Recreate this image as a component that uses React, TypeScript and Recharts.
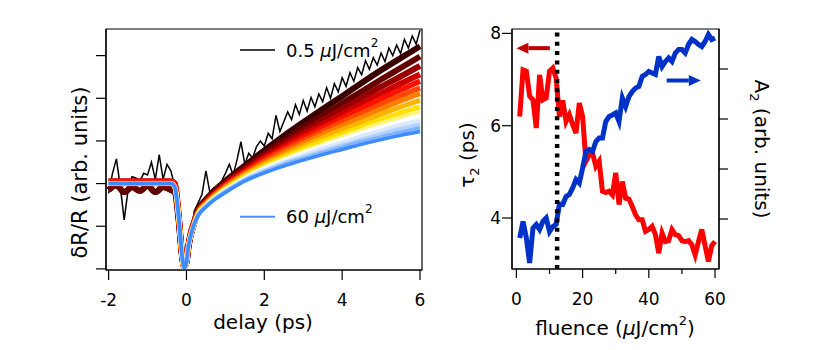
import React from "react";
import { LineChart, Line, XAxis, YAxis, ReferenceLine, ReferenceArea } from "recharts";

const FONT = "'DejaVu Sans', Verdana, sans-serif";

// ---- left panel: dR/R vs delay ----
const delayTicks = [-2, 0, 2, 4, 6];
const signalTicks = [-2, -1, 0, 1, 2, 3];

// lowest fluence (0.5 uJ/cm2), noisy trace
const lowDelays = [
  -2.0, -1.9, -1.8, -1.7, -1.6, -1.5, -1.4, -1.3, -1.2, -1.1, -1.0, -0.9, -0.8, -0.7, -0.6, -0.5, -0.4,
  -0.3, -0.2, -0.1, 0.0, 0.1, 0.2, 0.3, 0.4, 0.5, 0.6, 0.7, 0.8, 0.9, 1.0, 1.1, 1.2, 1.3, 1.4, 1.5, 1.6,
  1.7, 1.8, 1.9, 2.0, 2.1, 2.2, 2.3, 2.4, 2.5, 2.6, 2.7, 2.8, 2.9, 3.0, 3.1, 3.2, 3.3, 3.4, 3.5, 3.6, 3.7,
  3.8, 3.9, 4.0, 4.1, 4.2, 4.3, 4.4, 4.5, 4.6, 4.7, 4.8, 4.9, 5.0, 5.1, 5.2, 5.3, 5.4, 5.5, 5.6, 5.7, 5.8,
  5.9, 6.0,
];
const lowTrace = [
  -0.23, 0.24, 0.58, -0.07, -0.85, -0.15, 0.16, 0.13, 0.05, 0.24, 0.2, 0.5, 0.1, 0.68, 0.1, 0.45, 0.3,
  -0.07, -1.0, -1.79, -1.71, -1.3, -0.65, -0.45, -0.25, 0.3, -0.2, -0.1, -0.2, 0.05, 0.24, 0.45, 0.2, 0.56,
  0.98, 0.45, 0.71, 0.6, 0.87, 1.0, 0.88, 1.18, 1.05, 1.6, 1.22, 1.45, 1.68, 1.5, 1.85, 1.62, 1.95, 1.7,
  2.02, 1.8, 2.1, 1.92, 2.25, 2.0, 2.34, 2.15, 2.48, 2.28, 2.6, 2.4, 2.72, 2.55, 2.88, 2.68, 2.95, 2.78,
  3.06, 2.86, 3.18, 3.0, 3.25, 3.05, 3.38, 3.18, 3.46, 3.27, 3.6,
];

// pre-zero part + dip, shared by groups of traces
const darkEarlyDelays = [-2, -1.8, -1.6, -1.4, -1.2, -1.0, -0.8, -0.6, -0.4, -0.3, -0.2, -0.12, -0.06, 0, 0.05, 0.1, 0.18];
const darkEarly = [-0.15, -0.04, -0.2, -0.08, -0.17, -0.05, -0.2, -0.08, -0.15, -0.2, -0.85, -1.65, -1.95, -1.85, -1.5, -1.25, -0.98];
const earlyDelays = [-2, -0.4, -0.3, -0.2, -0.12, -0.06, 0, 0.05, 0.1, 0.18];
const redEarly = [0.05, 0.05, 0.0, -0.75, -1.6, -1.95, -1.82, -1.45, -1.2, -0.95];
const coolEarly = [0, 0, -0.08, -0.77, -1.63, -1.98, -1.85, -1.47, -1.25, -1.0];

const tailDelays = [0.3, 0.5, 0.75, 1, 1.5, 2, 2.5, 3, 3.5, 4, 4.5, 5, 5.5, 6];

const traceColors = [
  "#3a0000", "#640000", "#960000", "#cc0000", "#ff1000", "#ff4800", "#ff8000",
  "#ffb400", "#ffe000", "#fff47a", "#ffffff", "#dbe8ff", "#b0d0ff", "#80b4ff", "#3d8bff",
];
const traceEarly = ["dark", "dark", "red", "red", "red", "cool", "cool", "cool", "cool", "cool", "cool", "cool", "cool", "cool", "cool"];
const traceTails = [
  [-0.62, -0.37, -0.14, 0.06, 0.42, 0.78, 1.12, 1.44, 1.75, 2.05, 2.36, 2.66, 2.94, 3.22],
  [-0.63, -0.4, -0.17, 0.02, 0.37, 0.7, 1.01, 1.32, 1.6, 1.88, 2.16, 2.44, 2.71, 2.98],
  [-0.65, -0.42, -0.19, 0.0, 0.33, 0.65, 0.94, 1.22, 1.49, 1.75, 2.01, 2.27, 2.51, 2.76],
  [-0.66, -0.43, -0.22, -0.03, 0.29, 0.6, 0.87, 1.14, 1.38, 1.63, 1.87, 2.11, 2.34, 2.56],
  [-0.67, -0.45, -0.23, -0.05, 0.27, 0.56, 0.82, 1.07, 1.3, 1.53, 1.76, 1.99, 2.2, 2.4],
  [-0.68, -0.46, -0.25, -0.07, 0.24, 0.52, 0.77, 1.0, 1.22, 1.44, 1.65, 1.86, 2.06, 2.24],
  [-0.69, -0.47, -0.26, -0.09, 0.22, 0.48, 0.72, 0.94, 1.15, 1.35, 1.55, 1.75, 1.94, 2.11],
  [-0.7, -0.49, -0.28, -0.11, 0.19, 0.44, 0.66, 0.87, 1.07, 1.26, 1.44, 1.63, 1.8, 1.95],
  [-0.71, -0.5, -0.3, -0.13, 0.16, 0.4, 0.61, 0.81, 0.99, 1.16, 1.33, 1.5, 1.66, 1.8],
  [-0.72, -0.51, -0.31, -0.15, 0.14, 0.37, 0.57, 0.75, 0.92, 1.09, 1.25, 1.41, 1.55, 1.68],
  [-0.73, -0.52, -0.32, -0.16, 0.12, 0.35, 0.54, 0.71, 0.87, 1.03, 1.18, 1.33, 1.46, 1.59],
  [-0.73, -0.53, -0.33, -0.17, 0.11, 0.32, 0.5, 0.66, 0.82, 0.96, 1.11, 1.24, 1.37, 1.48],
  [-0.74, -0.54, -0.34, -0.19, 0.09, 0.29, 0.47, 0.62, 0.76, 0.9, 1.03, 1.16, 1.28, 1.38],
  [-0.74, -0.54, -0.35, -0.2, 0.07, 0.27, 0.44, 0.58, 0.72, 0.85, 0.98, 1.09, 1.2, 1.3],
  [-0.75, -0.55, -0.36, -0.21, 0.06, 0.25, 0.41, 0.55, 0.68, 0.8, 0.92, 1.03, 1.13, 1.22],
];
const traceWidths = [6, 6, 6, 6, 5.5, 5.5, 5, 5, 5, 4.5, 4.5, 4.5, 4, 4, 3.5];

// ---- right panel: tau2 and A2 vs fluence ----
const fluence = [
  1, 2, 3, 4, 5, 6, 7, 8, 9, 10, 11, 12, 13, 14, 15, 16, 17, 18, 19, 20, 21, 22, 23, 24, 25, 26, 27, 28, 29, 30,
  31, 32, 33, 34, 35, 36, 37, 38, 39, 40, 41, 42, 43, 44, 45, 46, 47, 48, 49, 50, 51, 52, 53, 54, 55, 56, 57, 58, 59, 60,
];
const tau2 = [
  6.2, 7.21, 7.18, 6.64, 6.56, 5.95, 7.1, 6.56, 6.6, 7.18, 7.25, 7.03, 6.2, 6.55, 6.09, 6.24, 6.02, 5.84, 6.49, 6.2,
  5.23, 5.37, 5.41, 5.12, 5.23, 4.58, 4.55, 4.58, 4.5, 4.98, 4.29, 4.79, 4.43, 4.41, 4.25, 4.07, 3.96, 3.96, 3.71, 3.75,
  3.82, 3.64, 3.24, 3.67, 3.49, 3.51, 3.75, 3.64, 3.62, 3.51, 3.49, 3.51, 3.42, 3.2, 3.49, 3.75, 3.4, 3.06, 3.4, 3.49,
];
const a2 = [
  0.62, 0.95, 0.62, 0.12, 0.82, 0.89, 0.79, 0.95, 1.02, 0.75, 0.85, 0.89, 1.3, 1.29, 1.45, 1.49, 1.62, 1.79, 1.72, 2.02,
  2.35, 2.39, 2.35, 2.55, 2.62, 2.62, 2.95, 3.05, 3.08, 3.12, 2.95, 3.42, 3.25, 3.45, 3.55, 3.62, 3.65, 3.85, 3.89, 3.95,
  3.92, 3.89, 4.25, 4.05, 4.15, 4.22, 4.15, 4.32, 4.39, 4.39, 4.32, 4.49, 4.59, 4.55, 4.49, 4.45, 4.55, 4.69, 4.59, 4.62,
];
const fluenceTicks = [0, 10, 20, 30, 40, 50, 60];
const tauTicks = [4, 6, 8];
const a2Ticks = [1, 2, 3, 4];
const thresholdFluence = 12.3;

const lowData = lowDelays.map((d, i) => ({ d, v: lowTrace[i] }));

function traceData(i: number) {
  const kind = traceEarly[i];
  const ed = kind === "dark" ? darkEarlyDelays : earlyDelays;
  const ev = kind === "dark" ? darkEarly : kind === "red" ? redEarly : coolEarly;
  return [
    ...ed.map((d, k) => ({ d, v: ev[k] })),
    ...tailDelays.map((d, k) => ({ d, v: traceTails[i][k] })),
  ];
}

const fluenceData = fluence.map((f, i) => ({ f, tau: tau2[i], a2: a2[i] }));

const axisStyle = { stroke: "#000", strokeWidth: 1.2 };
const blank = () => "";

function FluenceTick(props: any) {
  const { x, y, payload } = props;
  const major = payload.value % 20 === 0;
  const axisY = y - 24;
  return (
    <g>
      <line x1={x} x2={x} y1={axisY} y2={axisY + (major ? 9 : 5)} stroke="#000" strokeWidth={1.2} />
      {major && (
        <text x={x} y={y} dy="0.71em" textAnchor="middle" fontSize={17} fontFamily={FONT} fill="#000">
          {payload.value}
        </text>
      )}
    </g>
  );
}

function arrow(color: string) {
  return (p: any) => {
    const { x1, y1, x2, y2 } = p;
    const dir = Math.sign(x2 - x1);
    const hl = 12;
    const hw = 5.5;
    return (
      <g>
        <line x1={x1} y1={y1} x2={x2 - dir * hl} y2={y2} stroke={color} strokeWidth={4} />
        <polygon points={`${x2},${y2} ${x2 - dir * hl},${y2 - hw} ${x2 - dir * hl},${y2 + hw}`} fill={color} />
      </g>
    );
  };
}

function DelayPanel() {
  return (
    <LineChart width={440} height={350} margin={{ top: 29, right: 18, bottom: 50, left: 96 }}>
      <XAxis
        type="number"
        dataKey="d"
        domain={[-2.067, 6.051]}
        ticks={delayTicks}
        allowDataOverflow
        height={30}
        tickSize={10}
        tickMargin={14}
        axisLine={axisStyle}
        tickLine={axisStyle}
        tick={{ fill: "#000", fontSize: 17, fontFamily: FONT }}
      />
      <YAxis
        type="number"
        domain={[-2.026, 3.624]}
        ticks={signalTicks}
        allowDataOverflow
        width={10}
        tickSize={10}
        tickFormatter={blank}
        axisLine={axisStyle}
        tickLine={axisStyle}
      />
      <ReferenceArea x1={-2.067} x2={6.051} y1={-2.026} y2={3.624} fill="none" stroke="#000" strokeWidth={1.2} />
      <Line data={lowData} dataKey="v" type="linear" stroke="#000" strokeWidth={1.5} dot={false} isAnimationActive={false} />
      {traceColors.map((c, i) => (
        <Line
          key={i}
          data={traceData(i)}
          dataKey="v"
          type="monotone"
          stroke={c}
          strokeWidth={traceWidths[i]}
          dot={false}
          isAnimationActive={false}
        />
      ))}
    </LineChart>
  );
}

function FluencePanel() {
  return (
    <LineChart width={390} height={350} data={fluenceData} margin={{ top: 29, right: 91, bottom: 51, left: 12 }}>
      <XAxis
        type="number"
        dataKey="f"
        domain={[-1.33, 61.2]}
        ticks={fluenceTicks}
        allowDataOverflow
        height={30}
        tickSize={10}
        tickMargin={14}
        tickLine={false}
        axisLine={axisStyle}
        tick={<FluenceTick />}
      />
      <YAxis
        yAxisId="left"
        type="number"
        domain={[2.895, 8.095]}
        ticks={tauTicks}
        allowDataOverflow
        width={60}
        tickSize={10}
        tickMargin={1}
        axisLine={axisStyle}
        tickLine={axisStyle}
        tick={{ fill: "#000", fontSize: 17, fontFamily: FONT }}
      />
      <YAxis
        yAxisId="right"
        orientation="right"
        type="number"
        domain={[0, 4.8]}
        ticks={a2Ticks}
        allowDataOverflow
        width={20}
        tickSize={9}
        tickFormatter={blank}
        axisLine={axisStyle}
        tickLine={axisStyle}
      />
      <ReferenceArea yAxisId="left" x1={-1.33} x2={61.2} y1={2.895} y2={8.095} fill="none" stroke="#000" strokeWidth={1.2} />
      <Line yAxisId="left" dataKey="tau" type="linear" stroke="#ff0000" strokeWidth={5} dot={false} isAnimationActive={false} />
      <Line yAxisId="right" dataKey="a2" type="linear" stroke="#0032c8" strokeWidth={5} dot={false} isAnimationActive={false} />
      <ReferenceLine yAxisId="left" x={thresholdFluence} stroke="#000" strokeWidth={4.5} strokeDasharray="4 5.3" />
      <ReferenceLine
        yAxisId="left"
        segment={[{ x: 10.1, y: 7.68 }, { x: 0, y: 7.68 }]}
        shape={arrow("#c00000")}
      />
      <ReferenceLine
        yAxisId="right"
        segment={[{ x: 45.4, y: 3.77 }, { x: 55.7, y: 3.77 }]}
        shape={arrow("#0032c8")}
      />
    </LineChart>
  );
}

export default function App() {
  const txt = { fontFamily: FONT, fill: "#000" };
  return (
    <div style={{ position: "absolute", left: 0, top: 0, width: 830, height: 350, background: "#fff", fontFamily: FONT }}>
      <div style={{ position: "absolute", left: 0, top: 0 }}>
        <DelayPanel />
      </div>
      <div style={{ position: "absolute", left: 440, top: 0 }}>
        <FluencePanel />
      </div>
      <svg width={830} height={350} style={{ position: "absolute", left: 0, top: 0, pointerEvents: "none" }}>
        <line x1={240} x2={275} y1={50} y2={50} stroke="#000" strokeWidth={1.5} />
        <text x={286} y={56.5} fontSize={18} {...txt}>
          0.5 <tspan fontStyle="italic">μ</tspan>J/cm<tspan dy={-10} fontSize={12}>2</tspan>
        </text>
        <line x1={240} x2={275} y1={216.7} y2={216.7} stroke="#4a90ff" strokeWidth={2} />
        <text x={286} y={223} fontSize={18} {...txt}>
          60 <tspan fontStyle="italic">μ</tspan>J/cm<tspan dy={-10} fontSize={12}>2</tspan>
        </text>
        <text x={263} y={329} fontSize={20} textAnchor="middle" {...txt}>delay (ps)</text>
        <text transform="translate(86.5,172.5) rotate(-90)" fontSize={21} textAnchor="middle" {...txt}>
          δR/R (arb. units)
        </text>
        <text x={615} y={335} fontSize={20} textAnchor="middle" {...txt}>
          fluence (<tspan fontStyle="italic">μ</tspan>J/cm<tspan dy={-10} fontSize={13}>2</tspan>
          <tspan dy={10}>)</tspan>
        </text>
        <text transform="translate(474,155) rotate(-90)" fontSize={20} textAnchor="middle" {...txt}>
          τ<tspan dy={5} fontSize={13}>2</tspan>
          <tspan dy={-5}> (ps)</tspan>
        </text>
        <text transform="translate(755,149) rotate(90)" fontSize={20} textAnchor="middle" {...txt}>
          A<tspan dy={5} fontSize={13}>2</tspan>
          <tspan dy={-5}> (arb. units)</tspan>
        </text>
      </svg>
    </div>
  );
}
